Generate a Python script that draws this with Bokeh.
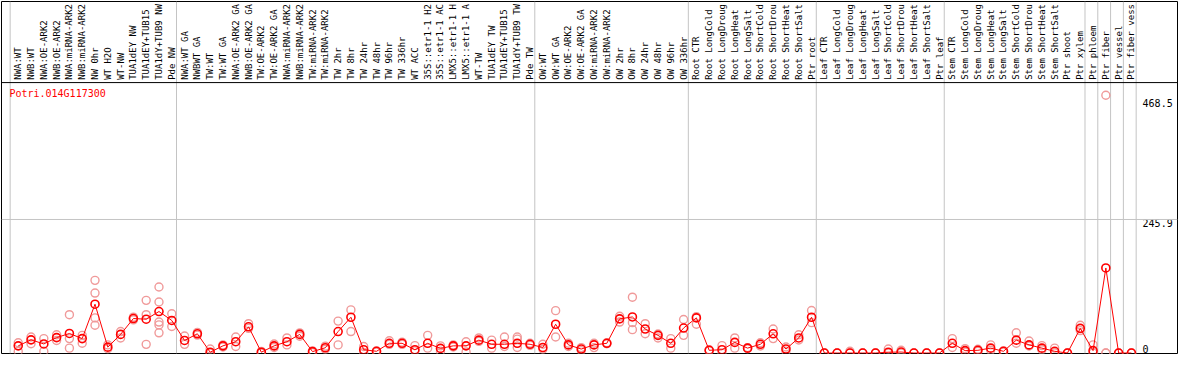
import numpy as np
from bokeh.plotting import figure
from bokeh.models import Range1d, Span
from bokeh.core.properties import value
from bokeh.embed import file_html
from bokeh.resources import INLINE

gene_id = "Potri.014G117300"

samples = [
    "NWA:WT", "NWB:WT", "NWA:OE-ARK2", "NWB:OE-ARK2", "NWA:miRNA-ARK2", "NWB:miRNA-ARK2",
    "NW 0hr", "WT H2O", "WT-NW", "TUA1dEY NW", "TUA1dEY+TUB15", "TUA1dY+TUB9 NW", "Pde NW",
    "NWA:WT GA", "NWBWT GA", "TW:WT", "TW:WT GA", "NWA:OE-ARK2 GA", "NWB:OE-ARK2 GA",
    "TW:OE-ARK2", "TW:OE-ARK2 GA", "NWA:miRNA-ARK2", "NWB:miRNA-ARK2", "TW:miRNA-ARK2",
    "TW:miRNA-ARK2", "TW 2hr", "TW 8hr", "TW 24hr", "TW 48hr", "TW 96hr", "TW 336hr",
    "WT ACC", "35S::etr1-1 H2", "35S::etr1-1 AC", "LMX5::etr1-1 H", "LMX5::etr1-1 A",
    "WT-TW", "TUA1dEY TW", "TUA1dEY+TUB15", "TUA1dY+TUB9 TW", "Pde TW",
    "OW:WT", "OW:WT GA", "OW:OE-ARK2", "OW:OE-ARK2 GA", "OW:miRNA-ARK2", "OW:miRNA-ARK2",
    "OW 2hr", "OW 8hr", "OW 24hr", "OW 48hr", "OW 96hr", "OW 336hr",
    "Root CTR", "Root LongCold", "Root LongDroug", "Root LongHeat", "Root LongSalt",
    "Root ShortCold", "Root ShortDrou", "Root ShortHeat", "Root ShortSalt", "Ptr root",
    "Leaf CTR", "Leaf LongCold", "Leaf LongDroug", "Leaf LongHeat", "Leaf LongSalt",
    "Leaf ShortCold", "Leaf ShortDrou", "Leaf ShortHeat", "Leaf ShortSalt", "Ptr leaf",
    "Stem CTR", "Stem LongCold", "Stem LongDroug", "Stem LongHeat", "Stem LongSalt",
    "Stem ShortCold", "Stem ShortDrou", "Stem ShortHeat", "Stem ShortSalt", "Ptr shoot",
    "Ptr xylem", "Ptr phloem", "Ptr fiber", "Ptr vessel", "Ptr fiber vess",
]

group_sizes = [13, 28, 12, 10, 10, 11, 1, 1, 1, 1]

mean_expr = [
    13.2, 24.3, 16.7, 28.4, 36.0, 26.6, 89.9, 10.8, 34.3, 63.5, 62.3, 76.4, 60.0,
    23.1, 35.4, 1.5, 13.2, 20.8, 48.3, 1.5, 13.2, 20.8, 34.3, 2.6, 9.7, 39.5, 65.9,
    6.1, 3.2, 17.9, 17.9, 6.1, 17.9, 8.5, 13.2, 13.2, 23.7, 16.1, 16.1, 17.9, 16.1,
    10.2, 53.0, 15.0, 7.3, 15.0, 17.9, 62.9, 66.4, 44.2, 32.5, 17.9, 46.0,
    64.7, 5.0, 6.1, 19.6, 9.0, 16.1, 35.4, 7.3, 27.8, 65.9,
    0, 0, 0, 0, 0, 1.5, 1.8, 0, 0, 0,
    17.9, 4.4, 5.0, 9.0, 3.2, 23.7, 15.0, 9.0, 3.2, 0, 45.4,
    4.4, 156.6, 0, 0,
]

replicates = [
    [19, 3.2], [29.5, 17.2], [26.6, 3.2], [33.6, 23], [70.6, 26.6, 9], [32.5, 17.9],
    [133.8, 110.4, 64.7, 51.2], [15, 8], [39.5, 27.8], [66, 61], [97, 70.6, 16],
    [121.5, 94, 57, 51.8, 37.2], [72.4, 48.9],
    [31.3, 16], [38, 33], [7.3, 0], [15, 11], [29.5, 12], [54, 45.4], [3, 0],
    [16.7, 10.2], [27.8, 15], [37, 31], [4, 1], [12.6, 7], [58.8, 15], [79.4, 39.5],
    [12, 1], [4, 2], [22.5, 16], [20, 16], [13.7, 4], [32.5, 9], [13.2, 3.2],
    [15, 11], [20.8, 2], [27.8, 21.5], [23.7, 9], [29.5, 12], [29.5, 25.5, 10.2], [18, 14],
    [16.1, 7], [78, 29.5], [18, 12], [10, 4.5], [18, 10], [19, 17], [67.6, 57],
    [102.8, 55.9, 43], [54, 35.4], [35, 27.8], [26.6, 9], [61.8, 32.5],
    [67, 53], [6, 4], [13.7, 0], [27.8, 9], [10, 8], [19, 13], [44.2, 26.6],
    [11, 3.2], [33.6, 24], [78.2, 55.9],
    [0, 0], [0, 0], [3.2, 0], [0, 0], [0, 0], [7.3, 0], [5, 0], [0, 0], [0, 0], [0, 0],
    [26.6, 10.2], [8, 2], [7, 3], [15, 5], [4, 2], [37.2, 17.9], [22, 13], [13.7, 6],
    [9, 0.5], [0, 0], [51.2, 41.3],
    [15, 0], [474.6, 0, 0], [0, 0], [0, 0],
]

axis_ticks = [0, 245.9, 468.5]

# ---------------------------------------------------------------- layout
n = len(samples)
x = np.arange(1, n + 1)
PLOT_TOP = 498.0      # value at the boundary between plot and label strip
LABEL_START = 503.0   # where the rotated sample labels begin
MONO = value("DejaVu Sans Mono")

p = figure(width=1178, height=354, output_backend="svg", toolbar_location=None,
           x_range=Range1d(-0.3077, 91.6), y_range=Range1d(-0.88, 647.3),
           x_axis_location=None, y_axis_location=None,
           min_border_left=1, min_border_right=1, min_border_top=1, min_border_bottom=1)
p.grid.visible = False
p.outline_line_color = "black"
p.outline_line_width = 1
p.background_fill_color = "white"
p.border_fill_color = "white"

# group separators
bounds = np.cumsum([0] + group_sizes) + 0.37
p.segment(x0=bounds, y0=p.y_range.start, x1=bounds, y1=p.y_range.end,
          line_color="#c4c4c4", line_width=1)
# middle reference line
p.add_layout(Span(location=axis_ticks[1], dimension="width",
                  line_color="#c4c4c4", line_width=1))

# replicates
rx = np.concatenate([[xi] * len(r) for xi, r in zip(x, replicates)])
ry = np.concatenate([r for r in replicates])
p.scatter(rx, ry, marker="circle", size=8, fill_color=None,
          line_color="#f09a9a", line_width=1.4)

# mean profile
p.line(x, mean_expr, line_color="red", line_width=1)
p.scatter(x, mean_expr, marker="circle", size=8, fill_color=None,
          line_color="red", line_width=1.6)

# label strip boundary
p.add_layout(Span(location=PLOT_TOP, dimension="width",
                  line_color="black", line_width=1))

# sample labels (rotated)
p.text(x=x, y=[LABEL_START] * n, text=samples, angle=np.pi / 2,
       text_align="left", text_baseline="middle", text_font=MONO,
       text_font_size=value("9px"), text_color="black")

# gene id title
p.text(x=[0.31], y=[477], text=[gene_id], text_align="left",
       text_baseline="middle", text_font=MONO, text_font_size=value("10px"),
       text_color="red")

# right-hand value labels
lab_x = n + 0.87
p.text(x=[lab_x] * 2, y=axis_ticks[1:], text=[str(t) for t in axis_ticks[1:]],
       text_align="left", text_baseline="top", text_font=MONO,
       text_font_size=value("10px"), text_color="black")
p.text(x=[lab_x], y=[axis_ticks[0]], text=[str(axis_ticks[0])],
       text_align="left", text_baseline="bottom", text_font=MONO,
       text_font_size=value("10px"), text_color="black")

open("out.html", "w").write(file_html(p, INLINE))
